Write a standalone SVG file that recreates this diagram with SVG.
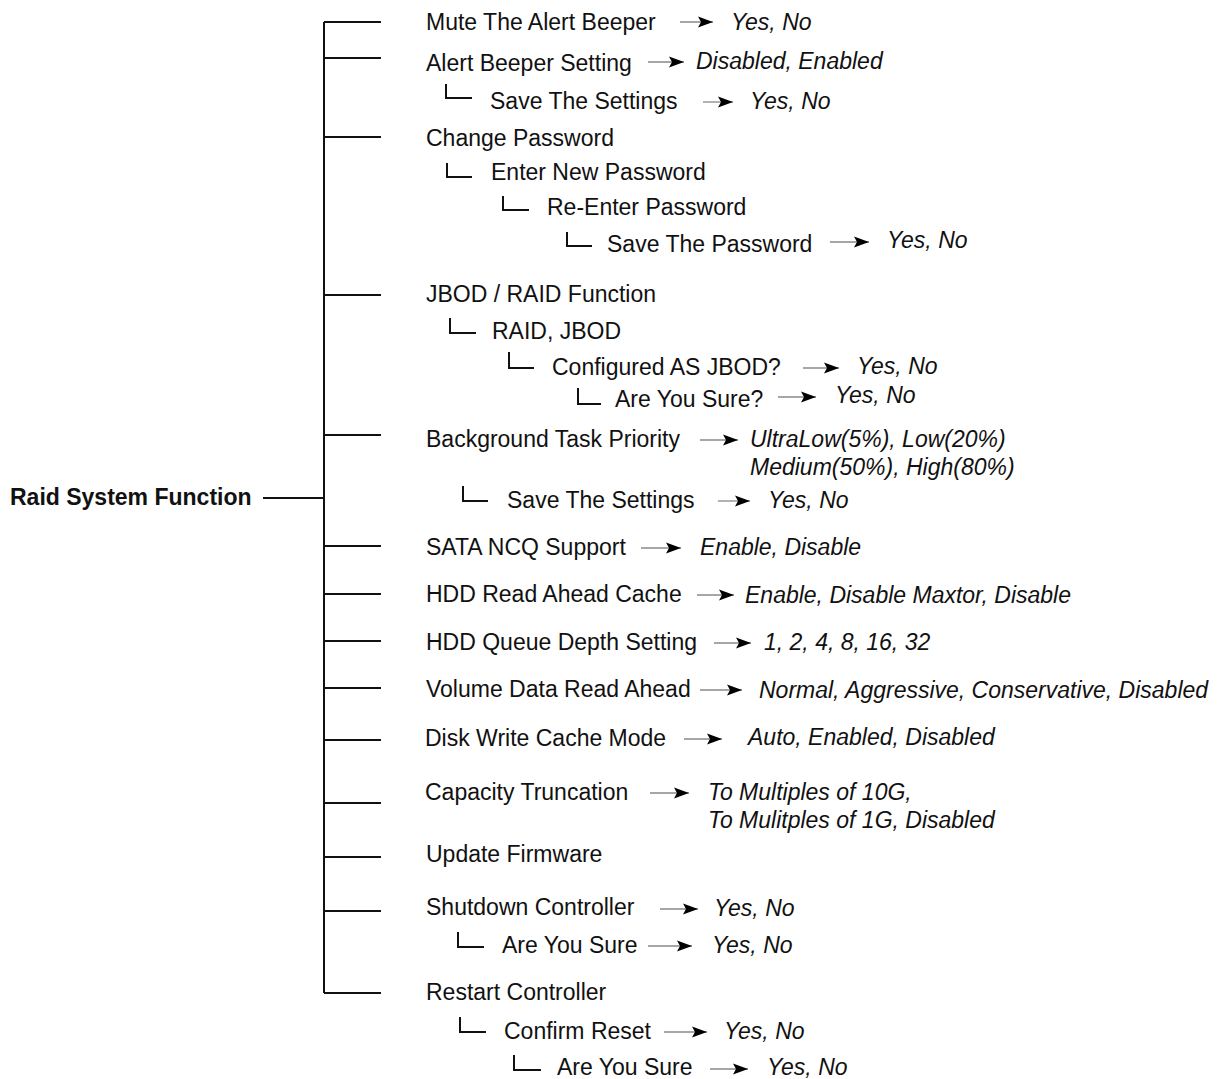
<svg xmlns="http://www.w3.org/2000/svg" width="1217" height="1079" viewBox="0 0 1217 1079">
<style>
text{font-family:"Liberation Sans",Arial,sans-serif;font-size:23px;fill:#111}
.v{font-style:italic}
.root{font-weight:bold}
.tr{stroke:#111;stroke-width:2;fill:none}
.ar{stroke:#888;stroke-width:1.3;fill:none;marker-end:url(#ah)}
</style>
<defs>
<marker id="ah" markerUnits="userSpaceOnUse" markerWidth="16" markerHeight="12" refX="15" refY="6" orient="auto">
<path d="M0,0.5 L15,6 L0,11.5 L3,6 Z" fill="#000"/>
</marker>
</defs>
<g id="connectors">
<path class="tr" d="M263,498H324M324,22V993"/>
<path class="tr" d="M324,22H381M324,58H381M324,137H381M324,295H381M324,435H381M324,546H381M324,594H381M324,641H381M324,688H381M324,740H381M324,803H381M324,857H381M324,911H381M324,993H381"/>
<path class="tr" d="M446,84V98H472M447,163V177H472M503,196V210H529M567,232V246H592M450,318V333H476M509,352V368H534M578,388V404H601M463,486V501H488M458,932V947H484M460,1017V1032H486M514,1055V1070H541"/>
<path class="ar" d="M680,22H713"/>
<path class="ar" d="M648,62H684"/>
<path class="ar" d="M703,102H733"/>
<path class="ar" d="M830,242H869"/>
<path class="ar" d="M803,368H839"/>
<path class="ar" d="M778,397H816"/>
<path class="ar" d="M700,440H738"/>
<path class="ar" d="M718,501H750"/>
<path class="ar" d="M641,548H681"/>
<path class="ar" d="M697,595H734"/>
<path class="ar" d="M714,643H751"/>
<path class="ar" d="M700,690H742"/>
<path class="ar" d="M684,739H722"/>
<path class="ar" d="M650,793H689"/>
<path class="ar" d="M660,909H698"/>
<path class="ar" d="M648,946H692"/>
<path class="ar" d="M664,1032H707"/>
<path class="ar" d="M710,1069H748"/>
</g>
<g id="root"><text class="root" x="10" y="505">Raid System Function</text></g>
<g id="n1"><text x="426" y="30">Mute The Alert Beeper</text><text class="v" x="731" y="30">Yes, No</text></g>
<g id="n2"><text x="426" y="71">Alert Beeper Setting</text><text class="v" x="696" y="69">Disabled, Enabled</text></g>
<g id="n2a"><text x="490" y="109">Save The Settings</text><text class="v" x="750" y="109">Yes, No</text></g>
<g id="n3"><text x="426" y="146">Change Password</text></g>
<g id="n3a"><text x="491" y="180">Enter New Password</text></g>
<g id="n3b"><text x="547" y="215">Re-Enter Password</text></g>
<g id="n3c"><text x="607" y="252">Save The Password</text><text class="v" x="887" y="248">Yes, No</text></g>
<g id="n4"><text x="426" y="302">JBOD / RAID Function</text></g>
<g id="n4a"><text x="492" y="339">RAID, JBOD</text></g>
<g id="n4b"><text x="552" y="375">Configured AS JBOD?</text><text class="v" x="857" y="374">Yes, No</text></g>
<g id="n4c"><text x="615" y="407">Are You Sure?</text><text class="v" x="835" y="403">Yes, No</text></g>
<g id="n5"><text x="426" y="447">Background Task Priority</text><text class="v" x="750" y="447">UltraLow(5%), Low(20%)</text><text class="v" x="750" y="475">Medium(50%), High(80%)</text></g>
<g id="n5a"><text x="507" y="508">Save The Settings</text><text class="v" x="768" y="508">Yes, No</text></g>
<g id="n6"><text x="426" y="555">SATA NCQ Support</text><text class="v" x="700" y="555">Enable, Disable</text></g>
<g id="n7"><text x="426" y="602">HDD Read Ahead Cache</text><text class="v" x="745" y="603">Enable, Disable Maxtor, Disable</text></g>
<g id="n8"><text x="426" y="650">HDD Queue Depth Setting</text><text class="v" x="764" y="650">1, 2, 4, 8, 16, 32</text></g>
<g id="n9"><text x="426" y="697">Volume Data Read Ahead</text><text class="v" x="759" y="698">Normal, Aggressive, Conservative, Disabled</text></g>
<g id="n10"><text x="425" y="746">Disk Write Cache Mode</text><text class="v" x="748" y="745">Auto, Enabled, Disabled</text></g>
<g id="n11"><text x="425" y="800">Capacity Truncation</text><text class="v" x="708" y="800">To Multiples of 10G,</text><text class="v" x="708" y="828">To Mulitples of 1G, Disabled</text></g>
<g id="n12"><text x="426" y="862">Update Firmware</text></g>
<g id="n13"><text x="426" y="915">Shutdown Controller</text><text class="v" x="714" y="916">Yes, No</text></g>
<g id="n13a"><text x="502" y="953">Are You Sure</text><text class="v" x="712" y="953">Yes, No</text></g>
<g id="n14"><text x="426" y="1000">Restart Controller</text></g>
<g id="n14a"><text x="504" y="1039">Confirm Reset</text><text class="v" x="724" y="1039">Yes, No</text></g>
<g id="n14b"><text x="557" y="1075">Are You Sure</text><text class="v" x="767" y="1075">Yes, No</text></g>
</svg>
